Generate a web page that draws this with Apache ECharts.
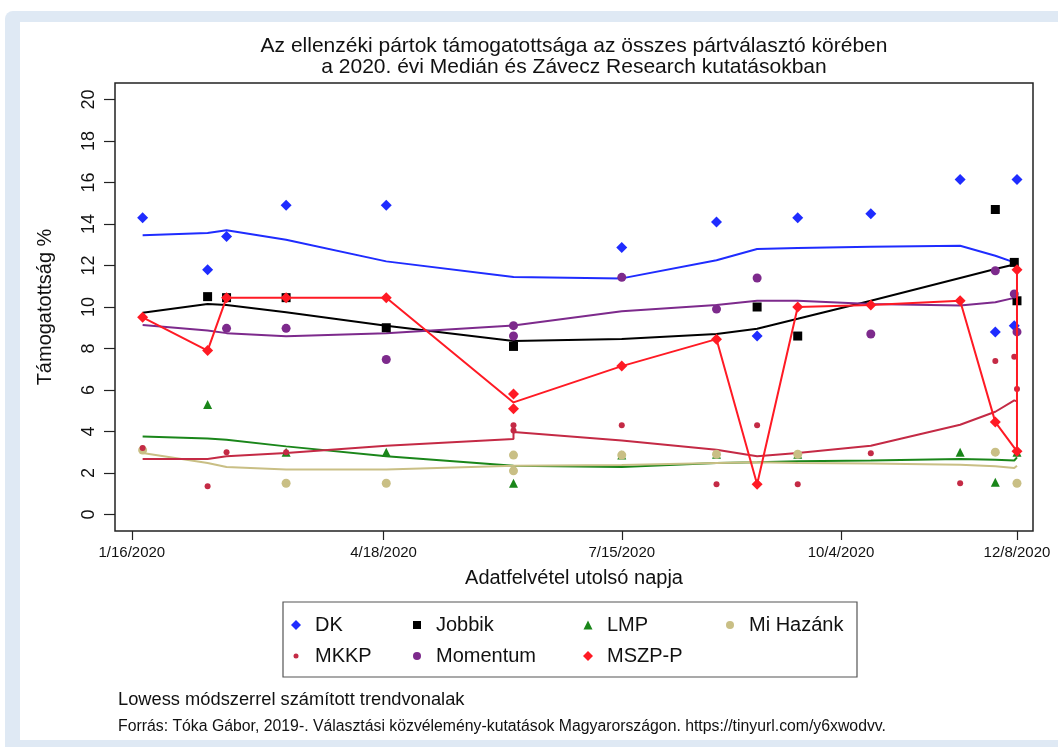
<!DOCTYPE html>
<html>
<head>
<meta charset="utf-8">
<script src="https://cdn.jsdelivr.net/npm/echarts@6/dist/echarts.min.js"></script>
<style>
  html, body { margin: 0; padding: 0; background: #ffffff; }
  #outer { position: absolute; left: 5px; top: 11px; width: 1053px; height: 736px; background: #dfe9f4; border-radius: 8px 0 0 0; }
  #inner { position: absolute; left: 20px; top: 22px; width: 1038px; height: 718px; background: #ffffff; }
  #chart { position: absolute; left: 0; top: 0; width: 1058px; height: 747px; }
</style>
</head>
<body>
<div id="outer"></div>
<div id="inner"></div>
<div id="chart"></div>
<script>
// ---------- data ----------
const xTickDates  = ['2020-01-16', '2020-04-18', '2020-07-15', '2020-10-04', '2020-12-08'];
const xTickLabels = ['1/16/2020', '4/18/2020', '7/15/2020', '10/4/2020', '12/8/2020'];
const yTicks = [0, 2, 4, 6, 8, 10, 12, 14, 16, 18, 20];

// poll points
const dkDates   = ['2020-01-20','2020-02-13','2020-02-20','2020-03-13','2020-04-19','2020-07-15','2020-08-19','2020-09-03','2020-09-18','2020-10-15','2020-11-17','2020-11-30','2020-12-07','2020-12-08'];
const dkValues  = [14.3, 11.8, 13.4, 14.9, 14.9, 12.87, 14.1, 8.6, 14.3, 14.5, 16.15, 8.8, 9.1, 16.15];

const jobbikDates  = ['2020-02-13','2020-02-20','2020-03-13','2020-04-19','2020-06-05','2020-09-03','2020-09-18','2020-11-30','2020-12-07','2020-12-08'];
const jobbikValues = [10.5, 10.45, 10.45, 9.0, 8.1, 10.0, 8.6, 14.7, 12.15, 10.3];

const lmpDates  = ['2020-02-13','2020-03-13','2020-04-19','2020-06-05','2020-07-15','2020-08-19','2020-09-18','2020-11-17','2020-11-30','2020-12-08'];
const lmpValues = [5.3, 3.0, 3.0, 1.5, 2.86, 2.9, 2.9, 3.0, 1.55, 3.0];

const mihazankDates  = ['2020-01-20','2020-03-13','2020-04-19','2020-06-05','2020-06-05','2020-07-15','2020-08-19','2020-09-18','2020-11-30','2020-12-08'];
const mihazankValues = [3.1, 1.5, 1.5, 2.86, 2.1, 2.86, 2.9, 2.9, 3.0, 1.5];

const mkkpDates  = ['2020-01-20','2020-02-13','2020-02-20','2020-03-13','2020-06-05','2020-06-05','2020-07-15','2020-08-19','2020-09-03','2020-09-18','2020-10-15','2020-11-17','2020-11-30','2020-12-07','2020-12-08'];
const mkkpValues = [3.2, 1.36, 3.0, 3.0, 4.3, 4.05, 4.3, 1.45, 4.3, 1.45, 2.95, 1.5, 7.4, 7.6, 6.05];

const momentumDates  = ['2020-02-20','2020-03-13','2020-04-19','2020-06-05','2020-06-05','2020-07-15','2020-08-19','2020-09-03','2020-10-15','2020-11-30','2020-12-07','2020-12-08'];
const momentumValues = [8.97, 8.97, 7.47, 9.1, 8.6, 11.43, 9.9, 11.4, 8.7, 11.75, 10.63, 8.8];

const mszpDates  = ['2020-01-20','2020-02-13','2020-02-20','2020-03-13','2020-04-19','2020-06-05','2020-06-05','2020-07-15','2020-08-19','2020-09-03','2020-09-18','2020-10-15','2020-11-17','2020-11-30','2020-12-08','2020-12-08'];
const mszpValues = [9.5, 7.9, 10.45, 10.45, 10.45, 5.8, 5.1, 7.15, 8.45, 1.45, 10.0, 10.1, 10.3, 4.45, 3.04, 11.8];

// lowess trend lines
const trendDates = ['2020-01-20','2020-02-13','2020-02-20','2020-03-13','2020-04-19','2020-06-05','2020-07-15','2020-08-19','2020-09-03','2020-09-18','2020-10-15','2020-11-17','2020-11-30','2020-12-07','2020-12-08'];
const dkTrend       = [13.46, 13.57, 13.7, 13.24, 12.2, 11.45, 11.38, 12.25, 12.8, 12.84, 12.9, 12.95, 12.47, 12.15, 12.05];
const jobbikTrend   = [9.72, 10.15, 10.1, 9.75, 9.1, 8.36, 8.46, 8.7, 8.95, 9.43, 10.3, 11.4, 11.83, 12.05, 12.1];
const lmpTrend      = [3.76, 3.66, 3.6, 3.28, 2.8, 2.35, 2.29, 2.48, 2.51, 2.56, 2.6, 2.67, 2.64, 2.6, 2.75];
const mihazankTrend = [2.96, 2.48, 2.29, 2.16, 2.16, 2.35, 2.38, 2.48, 2.51, 2.48, 2.45, 2.4, 2.32, 2.24, 2.35];
const momentumTrend = [9.13, 8.87, 8.74, 8.59, 8.74, 9.11, 9.8, 10.1, 10.3, 10.3, 10.15, 10.07, 10.23, 10.44, 10.42];

const mkkpTrendDates = ['2020-01-20','2020-02-13','2020-02-20','2020-03-13','2020-04-19','2020-06-05','2020-06-05','2020-07-15','2020-08-19','2020-09-03','2020-09-18','2020-10-15','2020-11-17','2020-11-30','2020-12-07','2020-12-08'];
const mkkpTrend      = [2.67, 2.67, 2.8, 2.96, 3.31, 3.63, 3.97, 3.56, 3.12, 2.8, 2.96, 3.31, 4.32, 4.95, 5.5, 5.45];

const mszpTrendDates = ['2020-01-20','2020-02-13','2020-02-20','2020-03-13','2020-04-19','2020-06-05','2020-07-15','2020-08-19','2020-09-03','2020-09-18','2020-10-15','2020-11-17','2020-11-30','2020-12-08','2020-12-08'];
const mszpTrend      = [9.5, 7.9, 10.45, 10.45, 10.45, 5.4, 7.15, 8.45, 1.45, 10.0, 10.1, 10.3, 4.45, 3.04, 11.8];

// ---------- helpers ----------
function ts(s, hours) {
  const p = s.split('-').map(Number);
  return new Date(p[0], p[1] - 1, p[2], hours || 0).getTime();
}
function pairs(dates, values) { return dates.map((d, i) => [ts(d), values[i]]); }

const FONT = '"Liberation Sans", Arial, Helvetica, sans-serif';
const C = {
  dk: '#1f2cff', jobbik: '#000000', lmp: '#1a861a', mihazank: '#c9bf85',
  mkkp: '#c42a45', momentum: '#7d2a8c', mszp: '#ff1a24'
};

const xTickTs = xTickDates.map(d => ts(d));

function trend(name, dates, vals, color, z) {
  return { name: name, type: 'line', data: pairs(dates, vals), showSymbol: false, symbol: 'none',
    lineStyle: { color: color, width: 2 }, itemStyle: { color: color }, z: z || 2, silent: true };
}
function pts(name, dates, vals, color, symbol, size, z) {
  return { name: name, type: 'scatter', data: pairs(dates, vals), symbol: symbol, symbolSize: size,
    itemStyle: { color: color, opacity: 1 }, z: z || 3 };
}
// legend entry: icon centred at cx, text starting at cx + 19
function leg(name, cx, cy, s) {
  return { data: [name], left: cx - s / 2, top: cy - 11, height: 22, padding: 0, itemWidth: s, itemHeight: s, itemGap: 0,
    textStyle: { fontSize: 20, color: '#111', fontFamily: FONT, padding: [0, 0, 0, 14 - s / 2] }, selectedMode: false };
}

const chart = echarts.init(document.getElementById('chart'), null, { renderer: 'canvas' });
chart.setOption({
  backgroundColor: 'transparent',
  animation: false,
  grid: { left: 115, right: 25, top: 83, bottom: 216, show: true, borderColor: '#222', borderWidth: 1.5, backgroundColor: '#fff' },
  xAxis: {
    type: 'value',
    min: ts('2020-01-09', 19),
    max: ts('2020-12-13', 22),
    name: 'Adatfelvétel utolsó napja',
    nameLocation: 'middle',
    nameGap: 37,
    nameTextStyle: { fontSize: 20, color: '#111', fontFamily: FONT },
    axisLine: { show: false, onZero: false },
    splitLine: { show: false },
    axisTick: { show: true, inside: false, length: 9, lineStyle: { color: '#222', width: 1.2 }, customValues: xTickTs },
    axisLabel: {
      customValues: xTickTs, margin: 14, fontSize: 15, color: '#111', fontFamily: FONT, hideOverlap: false,
      formatter: function (v) { const i = xTickTs.indexOf(v); return i >= 0 ? xTickLabels[i] : ''; }
    }
  },
  yAxis: {
    type: 'value',
    min: -0.8,
    max: 20.8,
    name: 'Támogatottság %',
    nameLocation: 'middle',
    nameGap: 60,
    nameTextStyle: { fontSize: 20, color: '#111', fontFamily: FONT },
    axisLine: { show: false, onZero: false },
    splitLine: { show: false },
    axisTick: { show: true, inside: false, length: 11, lineStyle: { color: '#222', width: 1.2 }, customValues: yTicks },
    axisLabel: { customValues: yTicks, rotate: 90, margin: 17, fontSize: 18, color: '#111', fontFamily: FONT }
  },
  legend: [
    leg('DK', 296, 626, 10), leg('Jobbik', 417, 626, 8), leg('LMP', 588, 626, 9), leg('Mi Hazánk', 730, 626, 8),
    leg('MKKP', 296, 657, 5), leg('Momentum', 417, 657, 8), leg('MSZP-P', 588, 657, 10)
  ],
  graphic: [
    { type: 'text', x: 574, y: 46, style: { text: 'Az ellenzéki pártok támogatottsága az összes pártválasztó körében', font: '21px ' + FONT, fill: '#111', textAlign: 'center', textVerticalAlign: 'middle' } },
    { type: 'text', x: 574, y: 67, style: { text: 'a 2020. évi Medián és Závecz Research kutatásokban', font: '21px ' + FONT, fill: '#111', textAlign: 'center', textVerticalAlign: 'middle' } },
    { type: 'rect', shape: { x: 283, y: 602, width: 574, height: 75 }, style: { fill: 'none', stroke: '#555', lineWidth: 1.2 }, z: -1 },
    { type: 'text', x: 118, y: 700, style: { text: 'Lowess módszerrel számított trendvonalak', font: '18.3px ' + FONT, fill: '#111', textVerticalAlign: 'middle' } },
    { type: 'text', x: 118, y: 727, style: { text: 'Forrás: Tóka Gábor, 2019-. Választási közvélemény-kutatások Magyarországon. https://tinyurl.com/y6xwodvv.', font: '15.8px ' + FONT, fill: '#111', textVerticalAlign: 'middle' } }
  ],
  series: [
    trend('DK lowess', trendDates, dkTrend, C.dk),
    trend('Jobbik lowess', trendDates, jobbikTrend, C.jobbik),
    trend('LMP lowess', trendDates, lmpTrend, C.lmp),
    trend('Mi Hazánk lowess', trendDates, mihazankTrend, C.mihazank),
    trend('MKKP lowess', mkkpTrendDates, mkkpTrend, C.mkkp),
    trend('Momentum lowess', trendDates, momentumTrend, C.momentum),
    pts('DK', dkDates, dkValues, C.dk, 'diamond', 11),
    pts('Jobbik', jobbikDates, jobbikValues, C.jobbik, 'rect', 9),
    pts('LMP', lmpDates, lmpValues, C.lmp, 'triangle', 9),
    pts('Mi Hazánk', mihazankDates, mihazankValues, C.mihazank, 'circle', 9),
    pts('MKKP', mkkpDates, mkkpValues, C.mkkp, 'circle', 6),
    pts('Momentum', momentumDates, momentumValues, C.momentum, 'circle', 9),
    trend('MSZP-P lowess', mszpTrendDates, mszpTrend, C.mszp, 4),
    pts('MSZP-P', mszpDates, mszpValues, C.mszp, 'diamond', 11, 5)
  ]
});
</script>
</body>
</html>
